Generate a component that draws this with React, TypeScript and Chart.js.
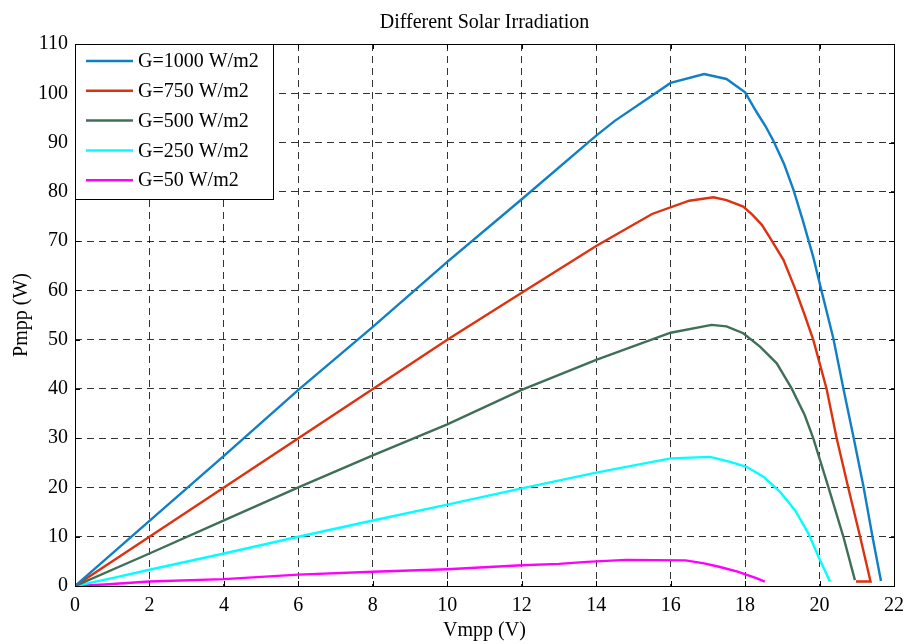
import React, { useEffect, useRef } from "react";
import { Chart, registerables } from "chart.js";

Chart.register(...registerables);

// P-V curves of a PV module at several irradiation levels
const seriesLabels = ["G=1000 W/m2", "G=750 W/m2", "G=500 W/m2", "G=250 W/m2", "G=50 W/m2"];
const seriesColors = ["#0F7FC6", "#DD3210", "#3F6F57", "#00FFFF", "#FF00FF"];

const v1000 = [0, 2, 4, 6, 8, 10, 12, 14, 14.5, 16, 16.9, 17.5, 18, 18.3, 18.55, 18.75, 19.05, 19.3, 19.55, 19.83, 20.05, 20.37, 20.64, 20.91, 21.18, 21.42, 21.65];
const p1000 = [0, 13.2, 26.4, 39.8, 52.6, 65.8, 78.5, 91.4, 94.4, 102.1, 103.9, 102.9, 100.2, 96.3, 93.3, 90.5, 85.6, 80.4, 74.2, 66.8, 60, 50.3, 40.1, 30.3, 20.2, 10.1, 1.0];

const v750 = [0, 2, 4, 6, 8, 10, 12, 14, 15.5, 16.5, 17.15, 17.5, 17.95, 18.2, 18.45, 18.65, 19.03, 19.34, 19.6, 19.83, 20.19, 20.46, 20.77, 21.09, 21.37, 20.98];
const p750 = [0, 10, 20, 30, 40, 50, 59.5, 69, 75.5, 78.2, 78.9, 78.3, 77, 75.3, 73.3, 70.9, 66.2, 60.4, 55, 50, 40, 30, 20, 10, 0.9, 0.9];

const v500 = [0, 2, 4, 6, 8, 10, 12, 14, 16, 17.1, 17.5, 17.95, 18.4, 18.85, 19.25, 19.6, 19.83, 20.24, 20.64, 20.95];
const p500 = [0, 6.6, 13.3, 20, 26.5, 32.8, 39.8, 45.9, 51.4, 53, 52.7, 51.3, 48.6, 45.2, 40.1, 34.7, 30, 20, 10, 1.2];

const v250 = [0, 1, 2, 4, 6, 8, 10, 12, 14, 16, 17.06, 17.6, 18.04, 18.49, 18.94, 19.34, 19.7, 20.01, 20.28];
const p250 = [0, 1.6, 3.3, 6.6, 10, 13.3, 16.5, 19.8, 23, 25.9, 26.2, 25.2, 24.2, 22.2, 19.1, 15.4, 10.7, 5.3, 0.9];

const v50 = [0, 0.8, 2, 4, 6, 8, 10, 12, 13, 13.75, 14.8, 16.4, 16.9, 17.3, 17.8, 18.3, 18.53];
const p50 = [0, 0.3, 0.9, 1.4, 2.3, 2.9, 3.4, 4.2, 4.5, 4.9, 5.3, 5.2, 4.6, 3.9, 2.9, 1.6, 0.9];

const xTicks = [0, 2, 4, 6, 8, 10, 12, 14, 16, 18, 20, 22];
const yTicks = [0, 10, 20, 30, 40, 50, 60, 70, 80, 90, 100, 110];

const titleText = "Different Solar Irradiation";
const xLabel = "Vmpp (V)";
const yLabel = "Pmpp (W)";

const FONT = '"Liberation Serif", "Times New Roman", serif';

const pairs = (xs: number[], ys: number[]) => xs.map((x, i) => ({ x, y: ys[i] }));

// Box, inward ticks, title and legend drawn in the style of a MATLAB figure
const framePlugin = {
  id: "matlabFrame",
  afterDraw(chart: any) {
    const { ctx, chartArea } = chart;
    const { left, right, top, bottom } = chartArea;
    const xs = chart.scales.x;
    const ys = chart.scales.y;
    ctx.save();

    // axes box
    ctx.strokeStyle = "#000";
    ctx.lineWidth = 1;
    ctx.setLineDash([]);
    ctx.strokeRect(Math.round(left) + 0.5, Math.round(top) + 0.5, Math.round(right - left), Math.round(bottom - top));

    // inward tick marks on all four sides
    const tl = 5;
    ctx.beginPath();
    xTicks.forEach((t) => {
      const px = Math.round(xs.getPixelForValue(t)) + 0.5;
      ctx.moveTo(px, bottom);
      ctx.lineTo(px, bottom - tl);
      ctx.moveTo(px, top);
      ctx.lineTo(px, top + tl);
    });
    yTicks.forEach((t) => {
      const py = Math.round(ys.getPixelForValue(t)) + 0.5;
      ctx.moveTo(left, py);
      ctx.lineTo(left + tl, py);
      ctx.moveTo(right, py);
      ctx.lineTo(right - tl, py);
    });
    ctx.stroke();

    // title
    ctx.fillStyle = "#000";
    ctx.font = `20px ${FONT}`;
    ctx.textAlign = "center";
    ctx.textBaseline = "alphabetic";
    ctx.fillText(titleText, (left + right) / 2, 28);

    // legend
    const lx = Math.round(left) + 0.5;
    const ly = Math.round(top) + 0.5;
    const lw = 198;
    const lh = 155;
    ctx.fillStyle = "#fff";
    ctx.fillRect(lx, ly, lw, lh);
    ctx.strokeStyle = "#000";
    ctx.lineWidth = 1;
    ctx.strokeRect(lx, ly, lw, lh);
    ctx.font = `20px ${FONT}`;
    ctx.textAlign = "left";
    ctx.textBaseline = "middle";
    chart.data.datasets.forEach((ds: any, i: number) => {
      const ry = top + 17 + i * 29.8;
      ctx.strokeStyle = ds.borderColor;
      ctx.lineWidth = 2.5;
      ctx.beginPath();
      ctx.moveTo(left + 11, ry);
      ctx.lineTo(left + 58, ry);
      ctx.stroke();
      ctx.fillStyle = "#000";
      ctx.fillText(ds.label, left + 63, ry + 1);
    });

    ctx.restore();
  },
};

export default function App() {
  const canvasRef = useRef<HTMLCanvasElement | null>(null);

  useEffect(() => {
    if (!canvasRef.current) return;
    const xsAll = [v1000, v750, v500, v250, v50];
    const ysAll = [p1000, p750, p500, p250, p50];
    const chart = new Chart(canvasRef.current, {
      type: "scatter",
      data: {
        datasets: seriesLabels.map((label, i) => ({
          label,
          data: pairs(xsAll[i], ysAll[i]),
          showLine: true,
          borderColor: seriesColors[i],
          backgroundColor: seriesColors[i],
          borderWidth: 2.4,
          pointRadius: 0,
          pointHoverRadius: 0,
          tension: 0,
          fill: false,
        })),
      },
      options: {
        animation: false,
        responsive: false,
        layout: { padding: { top: 44, right: 14, left: 0, bottom: 0 } },
        plugins: {
          legend: { display: false },
          title: { display: false },
          tooltip: { enabled: false },
        },
        scales: {
          x: {
            type: "linear",
            min: 0,
            max: 22,
            afterBuildTicks: (scale: any) => {
              scale.ticks = xTicks.map((value) => ({ value }));
            },
            afterFit: (scale: any) => {
              scale.height = 58;
              scale.paddingLeft = 0;
              scale.paddingRight = 0;
            },
            ticks: {
              color: "#000",
              font: { family: FONT, size: 20 },
              padding: 8,
              maxRotation: 0,
            },
            grid: { color: "rgba(0,0,0,0.8)", lineWidth: 1, drawTicks: false },
            border: { display: false, dash: [7, 5] },
            title: {
              display: true,
              text: xLabel,
              color: "#000",
              font: { family: FONT, size: 20 },
              padding: { top: 0, bottom: 1 },
            },
          },
          y: {
            type: "linear",
            min: 0,
            max: 110,
            afterBuildTicks: (scale: any) => {
              scale.ticks = yTicks.map((value) => ({ value }));
            },
            afterFit: (scale: any) => {
              scale.width = 75;
              scale.paddingTop = 0;
              scale.paddingBottom = 0;
            },
            ticks: {
              color: "#000",
              font: { family: FONT, size: 20 },
              padding: 7,
            },
            grid: { color: "rgba(0,0,0,0.8)", lineWidth: 1, drawTicks: false },
            border: { display: false, dash: [7, 5] },
            title: {
              display: true,
              text: yLabel,
              color: "#000",
              font: { family: FONT, size: 20 },
              padding: { top: 10, bottom: 0 },
            },
          },
        },
      },
      plugins: [framePlugin],
    } as any);
    return () => chart.destroy();
  }, []);

  return (
    <div style={{ position: "fixed", left: 0, top: 0, width: 908, height: 644, background: "#fff" }}>
      <canvas ref={canvasRef} width={908} height={644} style={{ display: "block" }} />
    </div>
  );
}
